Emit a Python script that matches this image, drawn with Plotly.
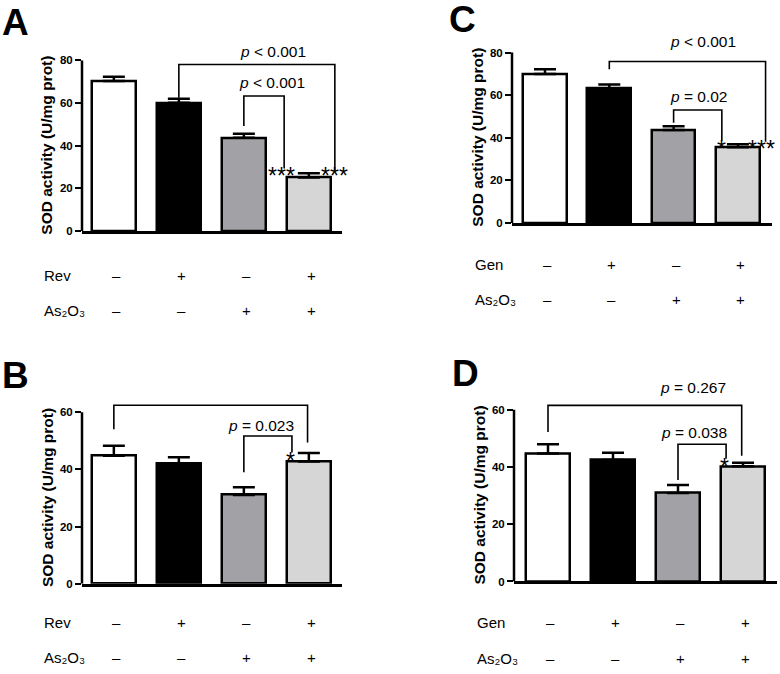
import plotly.graph_objects as go

W, H = 780, 674

# ---------------- data ----------------
groups = ["Control", "Agent", "As2O3", "Agent+As2O3"]
bar_colors = ["#ffffff", "#000000", "#a2a2a6", "#d6d6d6"]

A_means = [70.4, 60.1, 43.7, 25.1]
A_err = [2.0, 1.9, 1.9, 2.0]
C_means = [69.9, 63.1, 43.7, 35.5]
C_err = [2.2, 1.9, 1.7, 1.5]
B_means = [44.8, 42.0, 31.1, 42.8]
B_err = [3.5, 2.3, 2.7, 3.0]
D_means = [44.7, 42.4, 30.9, 40.2]
D_err = [3.2, 2.6, 2.8, 1.3]

A_ticks = [0, 20, 40, 60, 80]
C_ticks = [0, 20, 40, 60, 80]
B_ticks = [0, 20, 40, 60]
D_ticks = [0, 20, 40, 60]

agent_row_signs = ["–", "+", "–", "+"]
as2o3_row_signs = ["–", "–", "+", "+"]
as2o3_label = "As₂O₃"

# bracket: (x_left, y_left_bottom, x_right, y_right_bottom, y_top, p_text, label_x, label_y)
A_brackets = [
    (1, 62.5, 3.40, 27.9, 78.1, "&lt; 0.001", 2.45, 84.2),
    (2, 49.3, 2.62, 29.3, 63.3, "&lt; 0.001", 2.43, 69.8),
]
A_stars = [("***", 2.58, 28.4), ("***", 3.40, 28.4)]
C_brackets = [
    (1, 72.1, 3.43, 38.1, 75.8, "&lt; 0.001", 2.45, 85.1),
    (2, 47.0, 2.75, 38.6, 53.0, "= 0.02", 2.39, 59.5),
]
C_stars = [("*", 2.75, 37.6), ("***", 3.37, 37.6)]
B_brackets = [
    (0, 54.1, 2.98, 49.4, 62.5, "= 0.635", 2.25, 68.1),
    (2, 39.0, 2.74, 45.9, 51.7, "= 0.023", 2.26, 55.5),
]
B_stars = [("*", 2.72, 45.2)]
D_brackets = [
    (0, 52.2, 2.98, 43.9, 61.5, "= 0.267", 2.23, 67.7),
    (2, 35.4, 2.74, 42.9, 47.9, "= 0.038", 2.25, 51.9),
]
D_stars = [("*", 2.72, 42.0)]

# ---------------- layout per panel ----------------
FONT = "Liberation Sans, Arial, sans-serif"

panels = [
    dict(letter="A", agent="Rev", means=A_means, err=A_err, ticks=A_ticks,
         brackets=A_brackets, stars=A_stars,
         xpx=(82, 342), xrange=(-0.49, 3.51), y0px=233, yscale=2.15, yr=90,
         letter_pos=(15.5, 22.5), title_x=47, row_y=(278, 313), label_x=42),
    dict(letter="C", agent="Gen", means=C_means, err=C_err, ticks=C_ticks,
         brackets=C_brackets, stars=C_stars,
         xpx=(512, 772), xrange=(-0.513, 3.53), y0px=225, yscale=2.15, yr=90,
         letter_pos=(462, 19.5), title_x=478, row_y=(267, 302), label_x=473),
    dict(letter="B", agent="Rev", means=B_means, err=B_err, ticks=B_ticks,
         brackets=B_brackets, stars=B_stars,
         xpx=(82, 342), xrange=(-0.49, 3.51), y0px=589, yscale=2.883, yr=68,
         letter_pos=(15.5, 379), title_x=47, row_y=(627.7, 663), label_x=42),
    dict(letter="D", agent="Gen", means=D_means, err=D_err, ticks=D_ticks,
         brackets=D_brackets, stars=D_stars,
         xpx=(514, 777), xrange=(-0.523, 3.523), y0px=586.7, yscale=2.889, yr=68,
         letter_pos=(465, 377), title_x=480, row_y=(628, 664), label_x=475),
]

fig = go.Figure()
shapes = []
annotations = []

for i, p in enumerate(panels):
    n = "" if i == 0 else str(i + 1)
    xa, ya = "x" + n, "y" + n
    fig.add_trace(go.Bar(
        x=list(range(len(groups))), y=p["means"], xaxis=xa, yaxis=ya,
        width=0.68,
        marker=dict(color=bar_colors, line=dict(color="black", width=2.5)),
        error_y=dict(type="data", symmetric=False, array=p["err"],
                     arrayminus=[0] * len(p["err"]),
                     color="black", thickness=2.5, width=11),
        showlegend=False, hoverinfo="skip",
    ))
    top_px = p["y0px"] - p["yr"] * p["yscale"]
    fig.update_layout(**{
        "xaxis" + n: dict(domain=[p["xpx"][0] / W, p["xpx"][1] / W], range=list(p["xrange"]),
                          anchor=ya, showline=True, linewidth=2.5, linecolor="black",
                          showticklabels=False, ticks="", showgrid=False, zeroline=False,
                          fixedrange=True),
        "yaxis" + n: dict(domain=[1 - p["y0px"] / H, 1 - top_px / H], range=[0, p["yr"]],
                          anchor=xa, showline=False, tickvals=p["ticks"],
                          ticktext=[str(t) for t in p["ticks"]],
                          ticks="outside", ticklen=6, tickwidth=2.2, tickcolor="black",
                          tickfont=dict(family=FONT, size=11.5, color="black", weight="bold"),
                          showgrid=False, zeroline=False, fixedrange=True),
    })
    # y axis line up to the top tick
    shapes.append(dict(type="line", xref=xa + " domain", yref=ya, x0=0, x1=0,
                       y0=0, y1=max(p["ticks"]), line=dict(color="black", width=2.5)))
    # brackets
    for (xl, yl, xr, yrb, yt, ptxt, lx, ly) in p["brackets"]:
        shapes.append(dict(type="path", xref=xa, yref=ya,
                           path=f"M {xl},{yl} L {xl},{yt} L {xr},{yt} L {xr},{yrb}",
                           line=dict(color="black", width=1.6)))
        annotations.append(dict(xref=xa, yref=ya, x=lx, y=ly, text="<i>p</i> " + ptxt,
                                showarrow=False,
                                font=dict(family=FONT, size=15.5, color="black")))
    for (s, sx, sy) in p["stars"]:
        annotations.append(dict(xref=xa, yref=ya, x=sx, y=sy, text=s, showarrow=False,
                                yshift=-6, font=dict(family=FONT, size=23, color="black")))
    # panel letter
    annotations.append(dict(xref="paper", yref="paper", x=p["letter_pos"][0] / W,
                            y=1 - p["letter_pos"][1] / H, text=p["letter"],
                            showarrow=False, xanchor="center", yanchor="middle",
                            font=dict(family=FONT, size=37, color="black", weight="bold")))
    # y title
    mid = (p["y0px"] + (p["y0px"] - max(p["ticks"]) * p["yscale"])) / 2
    annotations.append(dict(xref="paper", yref="paper", x=p["title_x"] / W, y=1 - mid / H,
                            text="SOD activity (U/mg prot)", textangle=-90,
                            showarrow=False, xanchor="center", yanchor="middle",
                            font=dict(family=FONT, size=15.5, color="black", weight="bold")))
    # treatment rows
    for label, signs, rowy in [(p["agent"], agent_row_signs, p["row_y"][0]),
                               (as2o3_label, as2o3_row_signs, p["row_y"][1])]:
        annotations.append(dict(xref="paper", yref="paper", x=p["label_x"] / W, y=1 - rowy / H,
                                text=label, showarrow=False, xanchor="left", yanchor="middle",
                                font=dict(family=FONT, size=15, color="black")))
        for k, s in enumerate(signs):
            annotations.append(dict(xref=xa, yref="paper", x=k + 0.04, y=1 - rowy / H,
                                    text=s, showarrow=False, xanchor="center", yanchor="middle",
                                    font=dict(family=FONT, size=15, color="black")))

fig.update_layout(width=W, height=H, margin=dict(l=0, r=0, t=0, b=0),
                  paper_bgcolor="white", plot_bgcolor="white",
                  shapes=shapes, annotations=annotations, bargap=0,
                  font=dict(family=FONT, color="black"))

fig.write_html("out.html", config={"displayModeBar": False},
               post_script="document.body.style.margin='0';document.body.style.overflow='hidden';")
